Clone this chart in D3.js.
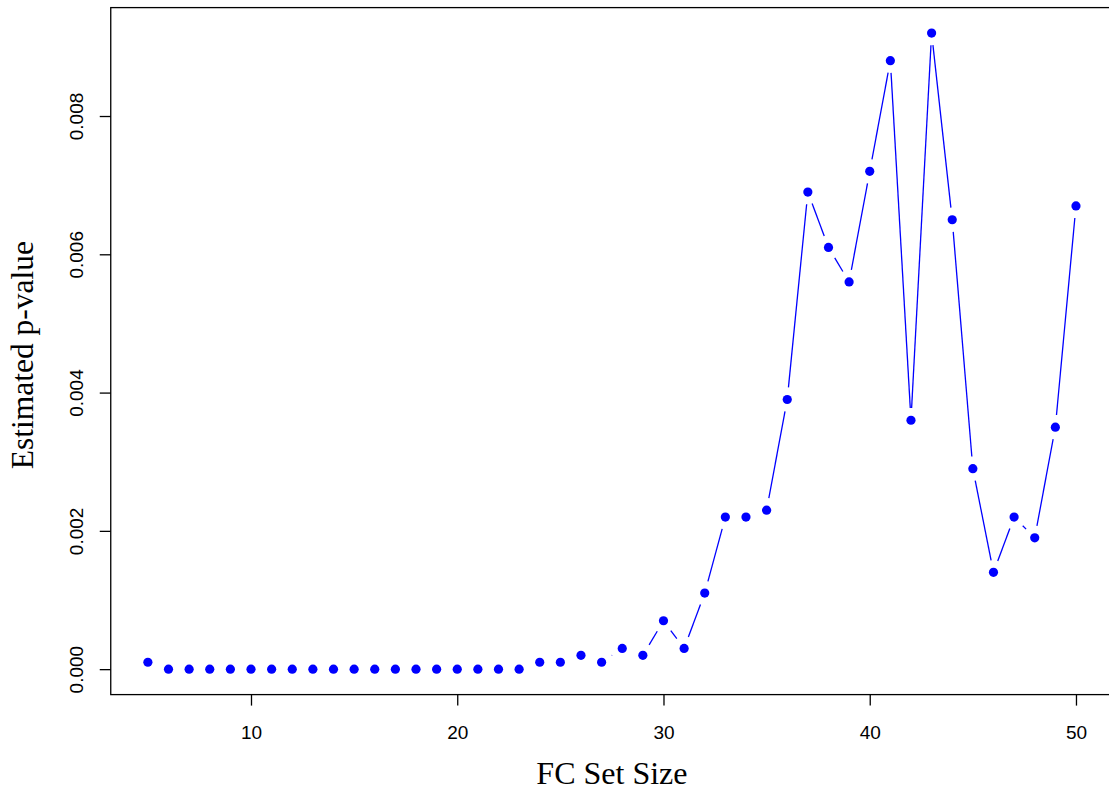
<!DOCTYPE html>
<html>
<head>
<meta charset="utf-8">
<script src="https://cdn.jsdelivr.net/npm/d3@7"></script>
<style>
  html, body { margin: 0; padding: 0; background: #fff; }
  svg { display: block; }
</style>
</head>
<body>
<svg id="chart" width="1109" height="792"></svg>
<script>
// FC set sizes and their estimated permutation p-values
const setSizes = [5, 6, 7, 8, 9, 10, 11, 12, 13, 14, 15, 16, 17, 18, 19, 20, 21, 22, 23, 24, 25, 26, 27,
                  28, 29, 30, 31, 32, 33, 34, 35, 36, 37, 38, 39, 40, 41, 42, 43, 44, 45, 46, 47, 48, 49, 50];
const pValues = [0.0001, 0, 0, 0, 0, 0, 0, 0, 0, 0, 0, 0, 0, 0, 0, 0, 0, 0, 0, 0.0001, 0.0001, 0.0002, 0.0001,
                 0.0003, 0.0002, 0.0007, 0.0003, 0.0011, 0.0022, 0.0022, 0.0023, 0.0039, 0.0069, 0.0061, 0.0056,
                 0.0072, 0.0088, 0.0036, 0.0092, 0.0065, 0.0029, 0.0014, 0.0022, 0.0019, 0.0035, 0.0067];
const xTicks = [10, 20, 30, 40, 50];
const yTicks = [0, 0.002, 0.004, 0.006, 0.008];
const xTitle = "FC Set Size";
const yTitle = "Estimated p-value";

const svg = d3.select("#chart");

// Axis limits padded by 4% on each side, as in base R graphics
const xExt = d3.extent(setSizes), yExt = d3.extent(pValues);
const xPad = (xExt[1] - xExt[0]) * 0.04, yPad = (yExt[1] - yExt[0]) * 0.04;

const x = d3.scaleLinear()
  .domain([xExt[0] - xPad, xExt[1] + xPad])
  .range([110.75, 1113.1]);
const y = d3.scaleLinear()
  .domain([yExt[0] - yPad, yExt[1] + yPad])
  .range([694.6, 7.6]);

const [x0, x1] = x.range();
const [y0, y1] = y.range();

// Data: points + line segments with gaps around the points (type = "b")
const pts = setSizes.map((s, i) => ({ px: x(s), py: y(pValues[i]) }));
const gap = 12.2;
const segs = [];
for (let i = 0; i < pts.length - 1; i++) {
  const a = pts[i], b = pts[i + 1];
  const dx = b.px - a.px, dy = b.py - a.py;
  const d = Math.hypot(dx, dy);
  if (d > 2 * gap) {
    const ux = dx / d, uy = dy / d;
    segs.push({ x1: a.px + ux * gap, y1: a.py + uy * gap, x2: b.px - ux * gap, y2: b.py - uy * gap });
  }
}

svg.append("g").selectAll("line").data(segs).join("line")
  .attr("x1", d => d.x1).attr("y1", d => d.y1)
  .attr("x2", d => d.x2).attr("y2", d => d.y2)
  .attr("stroke", "#0000ff").attr("stroke-width", 1.3);

svg.append("g").selectAll("circle").data(pts).join("circle")
  .attr("cx", d => d.px).attr("cy", d => d.py)
  .attr("r", 4.6).attr("fill", "#0000ff");

// Plot frame
svg.append("rect")
  .attr("x", x0).attr("y", y1)
  .attr("width", x1 - x0).attr("height", y0 - y1)
  .attr("fill", "none").attr("stroke", "#000").attr("stroke-width", 1.3);

// X axis
const xAxis = d3.axisBottom(x).tickValues(xTicks).tickSize(11).tickPadding(20)
  .tickFormat(d3.format("d"));
const gx = svg.append("g").attr("transform", `translate(0,${y0})`).call(xAxis);
gx.select(".domain").remove();
gx.selectAll(".tick line").attr("stroke", "#000").attr("stroke-width", 1.3);
gx.selectAll(".tick text")
  .attr("font-family", "Liberation Sans, Arial, sans-serif")
  .attr("font-size", 19).attr("fill", "#000")
  .attr("dy", null).attr("y", 44);

// Y axis with labels rotated parallel to the axis
const yAxis = d3.axisLeft(y).tickValues(yTicks).tickSize(11).tickFormat(d3.format(".3f"));
const gy = svg.append("g").attr("transform", `translate(${x0},0)`).call(yAxis);
gy.select(".domain").remove();
gy.selectAll(".tick line").attr("stroke", "#000").attr("stroke-width", 1.3);
gy.selectAll(".tick text")
  .attr("font-family", "Liberation Sans, Arial, sans-serif")
  .attr("font-size", 19).attr("fill", "#000")
  .attr("x", null).attr("dy", null)
  .attr("text-anchor", "middle")
  .attr("transform", `translate(${83 - x0},0) rotate(-90)`);

// Axis titles
svg.append("text")
  .attr("x", (x0 + x1) / 2).attr("y", 784)
  .attr("text-anchor", "middle")
  .attr("font-family", "Liberation Serif, Times New Roman, serif")
  .attr("font-size", 32).attr("fill", "#000")
  .text(xTitle);

svg.append("text")
  .attr("transform", `translate(33,${(y0 + y1) / 2 + 4}) rotate(-90)`)
  .attr("text-anchor", "middle")
  .attr("font-family", "Liberation Serif, Times New Roman, serif")
  .attr("font-size", 31.5).attr("fill", "#000")
  .text(yTitle);
</script>
</body>
</html>
